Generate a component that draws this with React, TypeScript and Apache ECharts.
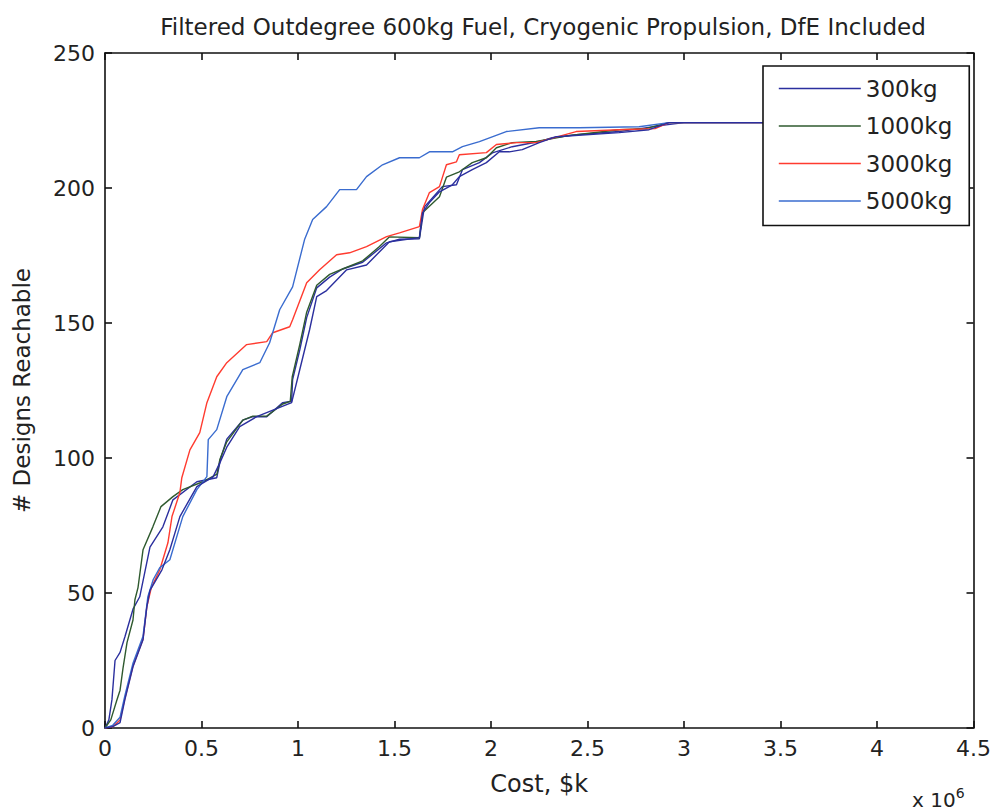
import React, { useEffect, useRef } from "react";
import * as echarts from "echarts";

const seriesNames = ["300kg", "1000kg", "3000kg", "5000kg"];
const xTicks = { min: 0, max: 4.5, interval: 0.5 };
const yTicks = { min: 0, max: 250, interval: 50 };

const s300kg: [number, number][] = [
  [0, 0], [0.02, 3], [0.036, 10.5], [0.052, 25], [0.078, 28], [0.104, 34], [0.145, 44],
  [0.18, 48.6], [0.233, 67], [0.3, 74.5], [0.352, 84.5], [0.476, 91.2], [0.579, 92.7],
  [0.6, 100], [0.631, 107], [0.714, 114], [0.766, 115.3], [0.838, 115.3], [0.921, 120.5],
  [0.967, 121], [0.972, 129], [1.009, 140], [1.045, 152], [1.097, 163], [1.164, 167],
  [1.231, 170], [1.335, 172.5], [1.459, 179.7], [1.526, 181], [1.629, 181.2], [1.655, 193],
  [1.748, 200.5], [1.821, 201.2], [1.852, 206.8], [1.94, 209.4], [2.007, 213], [2.11, 215.3],
  [2.25, 217.2], [2.317, 218.6], [2.441, 219.7], [2.664, 220.9], [2.907, 223.4], [3.0, 224.2],
  [3.6, 224.2],
];

const s1000kg: [number, number][] = [
  [0, 0], [0.03, 3], [0.06, 10], [0.078, 14], [0.093, 22], [0.114, 31.6], [0.145, 40],
  [0.155, 47.5], [0.171, 52], [0.197, 66], [0.248, 74.5], [0.29, 82], [0.352, 85.7],
  [0.403, 88.3], [0.507, 91.2], [0.58, 94], [0.595, 99.4], [0.631, 106], [0.714, 114],
  [0.766, 115.5], [0.838, 115.5], [0.921, 120], [0.96, 121], [0.97, 130], [1.009, 142],
  [1.045, 154], [1.097, 164], [1.164, 168], [1.231, 170], [1.335, 173], [1.422, 178.3],
  [1.474, 181.9], [1.629, 181.6], [1.645, 190.8], [1.733, 196.8], [1.769, 204], [1.836, 206],
  [1.903, 209.4], [1.976, 211.2], [2.028, 214.9], [2.11, 216.8], [2.234, 217.2], [2.41, 219.5],
  [2.664, 221.6], [2.8, 222], [2.92, 224.2], [3.6, 224.2],
];

const s3000kg: [number, number][] = [
  [0, 0], [0.04, 0.5], [0.078, 3], [0.103, 11], [0.145, 23], [0.197, 33], [0.217, 45],
  [0.24, 52], [0.284, 58.6], [0.326, 68.6], [0.347, 78.3], [0.388, 87.2], [0.398, 92.7],
  [0.44, 103], [0.491, 109.4], [0.528, 120.5], [0.579, 130.1], [0.631, 135.3], [0.734, 142],
  [0.838, 143.1], [0.869, 146.4], [0.957, 148.6], [0.972, 151.2], [1.045, 164.9],
  [1.112, 169.7], [1.2, 175.3], [1.267, 176], [1.355, 178.3], [1.459, 182], [1.526, 183.4],
  [1.629, 185.7], [1.645, 192], [1.681, 198.3], [1.733, 200.5], [1.769, 208.6], [1.821, 209.7],
  [1.836, 212.3], [1.976, 213.1], [2.028, 216.1], [2.131, 216.8], [2.234, 216.8],
  [2.441, 220.9], [2.664, 221.6], [2.85, 222], [2.922, 224.2], [3.6, 224.2],
];

const s5000kg: [number, number][] = [
  [0, 0], [0.04, 1], [0.078, 4], [0.103, 12], [0.145, 24], [0.197, 34], [0.222, 48.6],
  [0.25, 55], [0.284, 59.4], [0.336, 62.3], [0.403, 78.3], [0.476, 88.3], [0.528, 93.1],
  [0.535, 106.8], [0.579, 110.5], [0.631, 122.7], [0.714, 132.7], [0.802, 135.3],
  [0.853, 142.7], [0.905, 154.9], [0.972, 163.4], [1.034, 180.9], [1.076, 188.3],
  [1.148, 193.1], [1.216, 199.4], [1.303, 199.4], [1.355, 204.2], [1.438, 208.6],
  [1.526, 211.2], [1.629, 211.2], [1.681, 213.4], [1.8, 213.4], [1.852, 215.3], [1.94, 217.2],
  [2.079, 220.9], [2.25, 222.3], [2.457, 222.3], [2.767, 222.7], [2.922, 224.2], [3.6, 224.2],
];

const s300kgRun2: [number, number][] = [
  [0, 0], [0.04, 0.5], [0.078, 2], [0.103, 10.5], [0.145, 22.7], [0.197, 32.7], [0.217, 45],
  [0.233, 51], [0.295, 58.6], [0.336, 66], [0.388, 78.3], [0.476, 89.4], [0.56, 93],
  [0.595, 98.2], [0.631, 104], [0.698, 111.6], [0.786, 115.3], [0.967, 120.5], [1.009, 132.7],
  [1.06, 147.5], [1.097, 159.8], [1.148, 162], [1.252, 169.7], [1.355, 171.5], [1.474, 180.1],
  [1.629, 181.6], [1.645, 190.8], [1.681, 194.6], [1.733, 198.6], [1.8, 201.2], [1.836, 204.2],
  [1.903, 206.8], [1.976, 209.4], [2.043, 213.4], [2.095, 213.4], [2.162, 214.2], [2.25, 216.8],
  [2.338, 219], [2.664, 220.5], [2.819, 221.6], [2.922, 224.2], [3.6, 224.2],
];

const colors = ["#2b2f9e", "#2f5a2f", "#ff3b2f", "#3a6ccf"];
const FONT = "'DejaVu Sans', 'Liberation Sans', Arial, sans-serif";
const TXT = "#222222";

export default function App() {
  const ref = useRef<HTMLDivElement>(null);
  useEffect(() => {
    if (!ref.current) return;
    const chart = echarts.init(ref.current, undefined, { renderer: "svg" });
    const axisLine = { show: true, onZero: false, lineStyle: { color: "#111", width: 1.6 } };
    const tick = { show: true, inside: true, length: 7, lineStyle: { color: "#111", width: 1.6 } };
    const mk = (name: string, data: [number, number][], color: string) => ({
      type: "line",
      name,
      data,
      symbol: "none",
      showSymbol: false,
      lineStyle: { color, width: 1.4 },
      itemStyle: { color },
      silent: true,
    });
    chart.setOption({
      animation: false,
      backgroundColor: "#ffffff",
      title: {
        text: "Filtered Outdegree 600kg Fuel, Cryogenic Propulsion, DfE Included",
        left: 538,
        top: 10,
        textAlign: "center",
        textStyle: { fontFamily: FONT, fontSize: 23, fontWeight: "normal", color: TXT },
      },
      grid: { left: 105, right: 19, top: 53, bottom: 84, containLabel: false },
      legend: {
        data: seriesNames,
        orient: "vertical",
        left: 763,
        top: 66,
        itemWidth: 82,
        itemHeight: 20,
        itemGap: 14.5,
        padding: [11, 17, 13, 15],
        backgroundColor: "#ffffff",
        borderColor: "#111",
        borderWidth: 1.6,
        borderRadius: 0,
        itemStyle: { opacity: 0 },
        lineStyle: { width: 1.6 },
        textStyle: { fontFamily: FONT, fontSize: 23, lineHeight: 23, color: TXT },
        selectedMode: false,
      },
      xAxis: [
        {
          type: "value",
          ...xTicks,
          position: "bottom",
          name: "Cost, $k",
          nameLocation: "middle",
          nameGap: 44,
          nameTextStyle: { fontFamily: FONT, fontSize: 24, color: TXT },
          axisLine,
          axisTick: tick,
          splitLine: { show: false },
          axisLabel: { fontFamily: FONT, fontSize: 22, color: TXT, margin: 9 },
        },
        {
          type: "value",
          ...xTicks,
          position: "top",
          axisLine,
          axisTick: tick,
          splitLine: { show: false },
          axisLabel: { show: false },
        },
      ],
      yAxis: [
        {
          type: "value",
          ...yTicks,
          position: "left",
          name: "# Designs Reachable",
          nameLocation: "middle",
          nameRotate: 90,
          nameGap: 72,
          nameTextStyle: { fontFamily: FONT, fontSize: 23, color: TXT },
          axisLine,
          axisTick: tick,
          splitLine: { show: false },
          axisLabel: { fontFamily: FONT, fontSize: 22, color: TXT, margin: 10 },
        },
        {
          type: "value",
          ...yTicks,
          position: "right",
          axisLine,
          axisTick: tick,
          splitLine: { show: false },
          axisLabel: { show: false },
        },
      ],
      graphic: [
        {
          type: "text",
          left: 912,
          top: 786,
          style: {
            text: "x 10{sup|6}",
            fontFamily: FONT,
            fontSize: 20,
            fill: TXT,
            rich: { sup: { fontSize: 14, verticalAlign: "top", padding: [0, 0, 14, 0], fontFamily: FONT, fill: TXT } },
          },
        },
      ],
      series: [
        mk("300kg", s300kg, colors[0]),
        mk("1000kg", s1000kg, colors[1]),
        mk("3000kg", s3000kg, colors[2]),
        mk("5000kg", s5000kg, colors[3]),
        mk("300kg ", s300kgRun2, colors[0]),
      ],
    });
    return () => chart.dispose();
  }, []);
  return (
    <div
      ref={ref}
      style={{ position: "fixed", left: 0, top: 0, width: 994, height: 812, background: "#fff" }}
    />
  );
}
